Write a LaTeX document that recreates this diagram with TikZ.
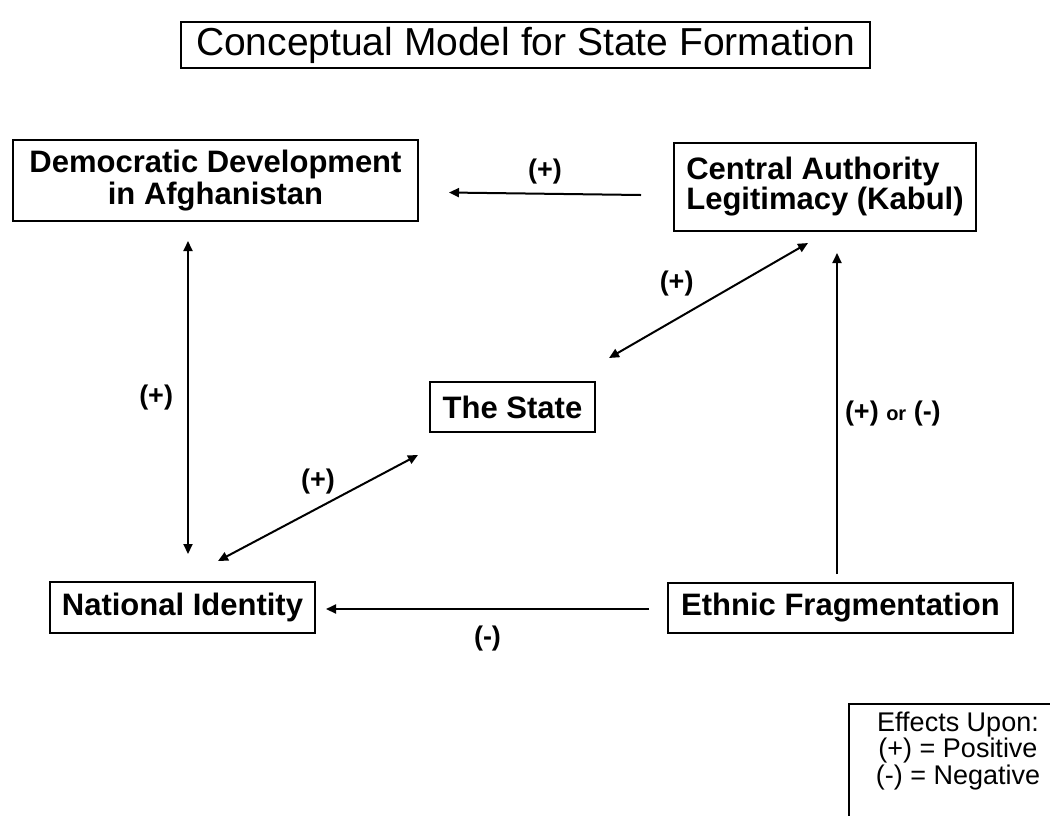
\documentclass[tikz,border=0pt]{standalone}
\usepackage{fontspec}
\setmainfont{Liberation Sans}
\usetikzlibrary{arrows.meta, positioning}

\begin{document}
\begin{tikzpicture}[x=1pt, y=-1pt,
    box/.style={draw, line width=2pt, inner sep=0pt, align=center,
        font=\fontsize{31}{30}\selectfont\bfseries},
    arr/.style={line width=2pt, -{Triangle[length=10pt, width=9pt]}},
    twoway/.style={line width=2pt, {Triangle[length=10pt, width=9pt]}-{Triangle[length=10pt, width=9pt]}},
    sign/.style={font=\fontsize{27}{27}\selectfont\bfseries, inner sep=0pt}]
    \clip (0,0) rectangle (1050,815);
    \fill[white] (0,0) rectangle (1050,815);

    % Nodes
    \node[draw, line width=2pt, inner sep=0pt, minimum width=689pt, minimum height=46pt,
        font=\fontsize{39}{39}\selectfont] (title) at (525.5, 45) {Conceptual Model for State Formation};
    \node[box, font=\fontsize{31}{32}\selectfont\bfseries, minimum width=405pt, minimum height=81pt] (dem) at (215.5, 180.5) {Democratic Development\\in Afghanistan};
    \node[box, align=left, minimum width=302pt, minimum height=88pt] (cal) at (825, 187) {Central Authority\\Legitimacy (Kabul)};
    \node[box, minimum width=165pt, minimum height=50pt] (state) at (512.5, 407) {The State};
    \node[box, minimum width=265pt, minimum height=51pt] (nat) at (182.5, 607.5) {National Identity};
    \node[box, minimum width=345pt, minimum height=50pt] (eth) at (840.5, 608) {Ethnic Fragmentation};

    % Key
    \node[draw, line width=2pt, anchor=north west, minimum width=218pt, minimum height=140pt] (key) at (848, 703) {};
    \node[below=9pt of key.north, inner sep=0pt, align=center,
        font=\fontsize{27}{25}\selectfont] (keytext) {Effects Upon:\\(+) = Positive\\(-) = Negative};

    % Lines
    \draw[arr] ([shift={(-32,8)}]cal.west) -- node[sign, midway, above=9pt] (s1) {(+)} ([shift={(30,12)}]dem.east);
    \draw[twoway] ([shift={(-27.5,19)}]dem.south) -- node[sign, midway, left=14pt] (s2) {(+)} ([shift={(5.5,-27)}]nat.north);
    \draw[twoway] ([shift={(-98,-20)}]nat.north east) -- node[sign, midway, above=13pt] (s3) {(+)} ([shift={(-11,22)}]state.south west);
    \draw[twoway] ([shift={(13,-23)}]state.north east) -- node[sign, midway, above left=3pt and 14pt] (s4) {(+)} ([shift={(-17,11)}]cal.south);
    \draw[arr] ([shift={(-3.5,-8)}]eth.north) -- node[sign, midway, right=7pt] (s5) {(+) {\fontsize{20}{20}\selectfont or} (-)} ([shift={(12,21)}]cal.south);
    \draw[arr] ([shift={(-18,1)}]eth.west) -- node[sign, midway, below=16pt] (s6) {(-)} ([shift={(10,1.5)}]nat.east);

\end{tikzpicture}
\end{document}
